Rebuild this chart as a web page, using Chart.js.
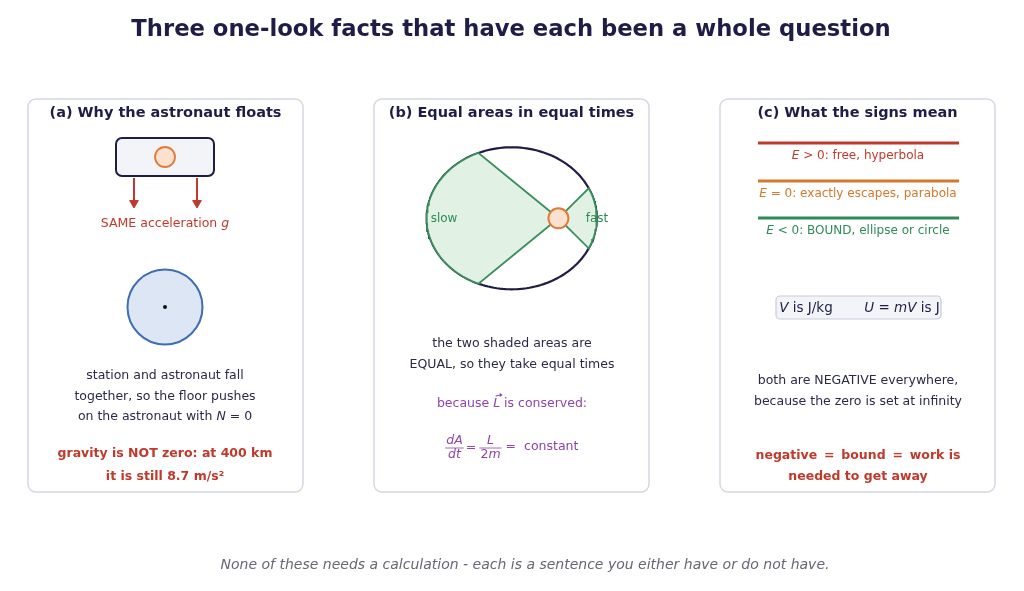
<!DOCTYPE html>
<html>
<head>
<meta charset="utf-8">
<script src="https://cdn.jsdelivr.net/npm/chart.js@4.4.1/dist/chart.umd.min.js"></script>
<style>
  html, body { margin: 0; padding: 0; background: #fff; }
  canvas { display: block; }
</style>
</head>
<body>
<canvas id="facts" width="1024" height="591" style="width:1024px;height:591px"></canvas>
<script>
const titleText = "Three one-look facts that have each been a whole question";
const footerText = "None of these needs a calculation - each is a sentence you either have or do not have.";
const panelTitles = [
  "(a) Why the astronaut floats",
  "(b) Equal areas in equal times",
  "(c) What the signs mean",
];
const fallLabel = "SAME acceleration *g*";
const fallCaption = [
  "station and astronaut fall",
  "together, so the floor pushes",
  "on the astronaut with *N* = 0",
];
const fallNote = ["gravity is NOT zero: at 400 km", "it is still 8.7 m/s\u00b2"];
const orbitLabels = ["slow", "fast"];
// sector ends, as eccentric angle in degrees
const slowSector = [113, 247];
const fastSector = [-25, 25];
const orbitCaption = ["the two shaded areas are", "EQUAL, so they take equal times"];
const orbitReason = "because *L* is conserved:";
const energyLabels = [
  "*E* > 0: free, hyperbola",
  "*E* = 0: exactly escapes, parabola",
  "*E* < 0: BOUND, ellipse or circle",
];
const unitLabels = ["*V* is J/kg", "*U* = *mV* is J"];
const signCaption = ["both are NEGATIVE everywhere,", "because the zero is set at infinity"];
const signNote = ["negative \u2009=\u2009 bound \u2009=\u2009 work is", "needed to get away"];

const NAVY = "#1f1d47";
const INK = "#2a2a48";
const RED = "#c0392b";
const ORANGE = "#d4782c";
const GREEN = "#2e8b57";
const PURPLE = "#8e44ad";
const FONT = '"DejaVu Sans", "Noto Sans", sans-serif';

const panelX = [28, 374, 720];
const orbit = { cx: 511.7, cy: 218.3, rx: 85, ry: 71 };
const focusX = orbit.cx + Math.sqrt(orbit.rx * orbit.rx - orbit.ry * orbit.ry);

const arcPoints = (from, to) => {
  const pts = [];
  for (let d = from; d <= to + 0.001; d += 2) {
    const t = (d * Math.PI) / 180;
    pts.push({ x: orbit.cx + orbit.rx * Math.cos(t), y: orbit.cy + orbit.ry * Math.sin(t) });
  }
  return pts;
};
const focusPt = { x: focusX, y: orbit.cy };
const sector = (range) => [focusPt, ...arcPoints(range[0], range[1]), focusPt];

const energyColors = [RED, ORANGE, GREEN];
const energyY = [143, 181, 218];

const arrowSet = (x) => ({
  data: [{ x: x, y: 178 }, { x: x, y: 203 }],
  showLine: true,
  order: 1,
  borderColor: RED,
  borderWidth: 2,
  pointRadius: [0, 5],
  pointStyle: "triangle",
  rotation: 180,
  pointBackgroundColor: RED,
  pointBorderColor: RED,
  pointBorderWidth: 1,
});

const drawRich = (ctx, str, cx, cy, size, color, weight) => {
  const parts = str.split("*").map((s, i) => ({ s, it: i % 2 === 1 }));
  const fontOf = (it) => `${it ? "italic " : ""}${weight || "normal"} ${size}px ${FONT}`;
  let total = 0;
  parts.forEach((p) => {
    ctx.font = fontOf(p.it);
    p.w = ctx.measureText(p.s).width;
    total += p.w;
  });
  let x = cx - total / 2;
  ctx.fillStyle = color;
  ctx.textAlign = "left";
  ctx.textBaseline = "middle";
  parts.forEach((p) => {
    ctx.font = fontOf(p.it);
    ctx.fillText(p.s, x, cy);
    p.x = x;
    x += p.w;
  });
  return parts;
};

const roundRect = (ctx, x, y, w, h, r, fill, stroke, lw) => {
  ctx.beginPath();
  ctx.roundRect(x, y, w, h, r);
  ctx.fillStyle = fill;
  ctx.fill();
  ctx.lineWidth = lw;
  ctx.strokeStyle = stroke;
  ctx.stroke();
};

const diagramPlugin = {
  id: "diagram",
  beforeDatasetsDraw(chart) {
    const ctx = chart.ctx;
    const X = (v) => chart.scales.x.getPixelForValue(v);
    const Y = (v) => chart.scales.y.getPixelForValue(v);
    ctx.save();
    panelX.forEach((px) => {
      roundRect(ctx, X(px), Y(99), X(px + 275) - X(px), Y(492) - Y(99), 8, "#ffffff", "#d5d7e3", 1.5);
    });
    roundRect(ctx, X(116), Y(138), X(214) - X(116), Y(176) - Y(138), 6, "#f3f4f8", NAVY, 2);
    roundRect(ctx, X(776), Y(296), X(941) - X(776), Y(319) - Y(296), 4, "#f3f4f8", "#c9ccd9", 1.2);
    ctx.restore();
  },
  afterDatasetsDraw(chart) {
    const ctx = chart.ctx;
    const X = (v) => chart.scales.x.getPixelForValue(v);
    const Y = (v) => chart.scales.y.getPixelForValue(v);
    ctx.save();
    drawRich(ctx, titleText, X(511), Y(30), 22.7, NAVY, "bold");
    panelTitles.forEach((t, i) => drawRich(ctx, t, X(panelX[i] + 137.5), Y(113), 14.5, NAVY, "bold"));

    // (a)
    drawRich(ctx, fallLabel, X(165), Y(224), 12.5, RED);
    fallCaption.forEach((t, i) => drawRich(ctx, t, X(165), Y(376 + i * 20.5), 12.5, INK));
    fallNote.forEach((t, i) => drawRich(ctx, t, X(165), Y(454 + i * 22.5), 12.5, RED, "bold"));

    // (b)
    drawRich(ctx, orbitLabels[0], X(444), Y(219), 12, GREEN);
    drawRich(ctx, orbitLabels[1], X(597), Y(219), 12, GREEN);
    orbitCaption.forEach((t, i) => drawRich(ctx, t, X(512), Y(344 + i * 21), 12.5, INK));
    const parts = drawRich(ctx, orbitReason, X(512), Y(404), 12.5, PURPLE);
    const L = parts[1];
    ctx.strokeStyle = PURPLE;
    ctx.fillStyle = PURPLE;
    ctx.lineWidth = 1;
    ctx.beginPath();
    ctx.moveTo(L.x + 2.5, Y(396));
    ctx.lineTo(L.x + L.w + 1, Y(395));
    ctx.stroke();
    ctx.beginPath();
    ctx.moveTo(L.x + L.w + 2.5, Y(394.8));
    ctx.lineTo(L.x + L.w - 0.5, Y(393));
    ctx.lineTo(L.x + L.w - 0.2, Y(397));
    ctx.closePath();
    ctx.fill();

    const frac = (num, den, cx) => {
      drawRich(ctx, num, X(cx), Y(440.5), 12.5, PURPLE);
      drawRich(ctx, den, X(cx), Y(455), 12.5, PURPLE);
      ctx.font = `italic 12.5px ${FONT}`;
      const w = Math.max(ctx.measureText(num.replace(/\*/g, "")).width, ctx.measureText(den.replace(/\*/g, "")).width) + 2;
      ctx.lineWidth = 0.8;
      ctx.beginPath();
      ctx.moveTo(X(cx) - w / 2, Y(448));
      ctx.lineTo(X(cx) + w / 2, Y(448));
      ctx.stroke();
    };
    frac("*dA*", "*dt*", 454.5);
    drawRich(ctx, "=", X(471), Y(447.5), 12.5, PURPLE);
    frac("*L*", "2*m*", 490.5);
    drawRich(ctx, "=  constant", X(542), Y(446.5), 12.5, PURPLE);

    // (c)
    energyLabels.forEach((t, i) => drawRich(ctx, t, X(858), Y(energyY[i] + 12.5), 12, energyColors[i]));
    drawRich(ctx, unitLabels[0], X(806), Y(308), 13.5, NAVY);
    drawRich(ctx, unitLabels[1], X(902), Y(308), 13.5, NAVY);
    signCaption.forEach((t, i) => drawRich(ctx, t, X(858), Y(381 + i * 20.5), 12.5, INK));
    signNote.forEach((t, i) => drawRich(ctx, t, X(858), Y(456 + i * 21), 12.5, RED, "bold"));

    drawRich(ctx, "*" + footerText + "*", X(525), Y(565), 14, "#666675");
    ctx.restore();
  },
};

const datasets = [
  {
    data: [
      { x: 165, y: 157 },
      { x: 165, y: 307 },
      { x: 165, y: 307 },
      { x: focusX, y: orbit.cy },
    ],
    order: 0,
    showLine: false,
    pointRadius: [10, 37.5, 2, 10],
    pointBackgroundColor: ["#fde1cf", "#dce6f5", "#111111", "#fde1cf"],
    pointBorderColor: ["#e07b39", "#3d6db5", "#111111", "#e07b39"],
    pointBorderWidth: [1.8, 2, 0, 2],
  },
  arrowSet(134),
  arrowSet(197),
  ...energyY.map((y, i) => ({
    data: [{ x: 758, y: y }, { x: 959, y: y }],
    order: 1,
    showLine: true,
    borderColor: energyColors[i],
    borderWidth: 3,
    pointRadius: 0,
  })),
  {
    data: sector(slowSector),
    order: 2,
    showLine: true,
    fill: "shape",
    backgroundColor: "#e1f1e3",
    borderColor: "#3a8f5c",
    borderWidth: 1.8,
    pointRadius: 0,
  },
  {
    data: sector(fastSector),
    order: 2,
    showLine: true,
    fill: "shape",
    backgroundColor: "#e1f1e3",
    borderColor: "#3a8f5c",
    borderWidth: 1.8,
    pointRadius: 0,
  },
  {
    data: arcPoints(0, 360),
    order: 3,
    showLine: true,
    borderColor: NAVY,
    borderWidth: 2.2,
    pointRadius: 0,
  },
];

new Chart(document.getElementById("facts"), {
  type: "scatter",
  data: { datasets: datasets },
  options: {
    responsive: false,
    animation: false,
    events: [],
    layout: { padding: 0, autoPadding: false },
    plugins: { legend: { display: false }, tooltip: { enabled: false } },
    scales: {
      x: { type: "linear", min: 0, max: 1024, display: false },
      y: { type: "linear", min: 0, max: 591, reverse: true, display: false },
    },
  },
  plugins: [diagramPlugin],
});
</script>
</body>
</html>
